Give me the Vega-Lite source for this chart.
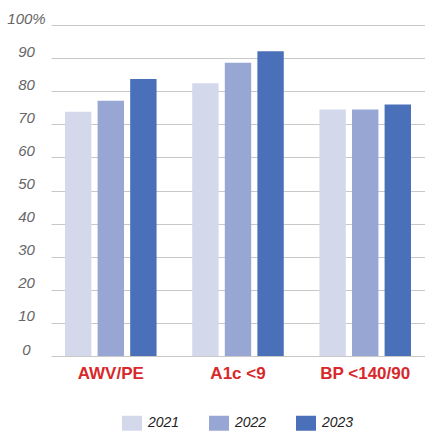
{
  "$schema": "https://vega.github.io/schema/vega-lite/v6.json",
  "width": 374,
  "height": 331,
  "autosize": {"type": "none"},
  "padding": {"left": 51, "top": 25, "right": 0, "bottom": 75},
  "background": "white",
  "config": {
    "view": {"stroke": null},
    "font": "Liberation Sans"
  },
  "data": {
    "values": [
      {"measure": "AWV/PE", "year": "2021", "pct": 73.8},
      {"measure": "AWV/PE", "year": "2022", "pct": 77.1},
      {"measure": "AWV/PE", "year": "2023", "pct": 83.7},
      {"measure": "A1c <9", "year": "2021", "pct": 82.4},
      {"measure": "A1c <9", "year": "2022", "pct": 88.6},
      {"measure": "A1c <9", "year": "2023", "pct": 92.1},
      {"measure": "BP <140/90", "year": "2021", "pct": 74.5},
      {"measure": "BP <140/90", "year": "2022", "pct": 74.5},
      {"measure": "BP <140/90", "year": "2023", "pct": 76.0}
    ]
  },
  "mark": {"type": "bar"},
  "encoding": {
    "x": {
      "field": "measure",
      "type": "nominal",
      "sort": ["AWV/PE", "A1c <9", "BP <140/90"],
      "scale": {"paddingInner": 0.06, "paddingOuter": 0},
      "axis": {
        "title": null,
        "labelAngle": 0,
        "labelColor": "#d8282b",
        "labelFontWeight": "bold",
        "labelFontSize": 17,
        "labelPadding": 9,
        "ticks": false,
        "domain": false,
        "grid": false
      }
    },
    "xOffset": {
      "field": "year",
      "type": "nominal",
      "scale": {"paddingInner": 0.19, "paddingOuter": 0.43}
    },
    "y": {
      "field": "pct",
      "type": "quantitative",
      "scale": {"domain": [0, 100], "nice": false},
      "axis": {
        "title": null,
        "values": [0, 10, 20, 30, 40, 50, 60, 70, 80, 90, 100],
        "labelExpr": "datum.value == 100 ? '100%' : datum.label",
        "labelAlign": "center",
        "labelBaseline": "alphabetic",
        "labelOffset": -2,
        "labelPadding": 25,
        "labelFontSize": 15,
        "labelFontStyle": "italic",
        "labelColor": "#666666",
        "ticks": false,
        "domain": false,
        "grid": true,
        "gridColor": "#c8c8c8",
        "gridWidth": 1
      }
    },
    "color": {
      "field": "year",
      "type": "nominal",
      "scale": {"domain": ["2021", "2022", "2023"], "range": ["#d4d8eb", "#98a6d3", "#4b70ba"]},
      "legend": {
        "title": null,
        "orient": "none",
        "direction": "horizontal",
        "legendX": 71,
        "legendY": 388,
        "padding": 0,
        "symbolType": "M-1,-0.75H1V0.75H-1Z",
        "symbolSize": 400,
        "symbolStrokeWidth": 0,
        "symbolOpacity": 1,
        "labelOffset": 6,
        "labelFontSize": 14,
        "labelFontStyle": "italic",
        "labelColor": "#222222",
        "columnPadding": 29
      }
    }
  }
}
